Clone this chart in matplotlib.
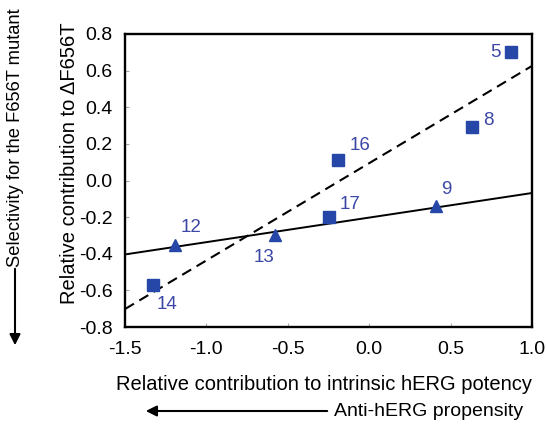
import numpy as np
import matplotlib
matplotlib.use("Agg")
import matplotlib.pyplot as plt

# squares (dashed fit) and triangles (solid fit)
sq_labels = ["5", "8", "16", "17", "14"]
sq_x = [0.87, 0.63, -0.19, -0.25, -1.33]
sq_y = [0.70, 0.29, 0.11, -0.20, -0.57]

tri_labels = ["12", "13", "9"]
tri_x = [-1.19, -0.58, 0.41]
tri_y = [-0.35, -0.30, -0.14]

x_ticks = [-1.5, -1.0, -0.5, 0.0, 0.5, 1.0]
y_ticks = [-0.8, -0.6, -0.4, -0.2, 0.0, 0.2, 0.4, 0.6, 0.8]

# label offsets in points
sq_offsets = [(-15, 0), (8, 5), (8, 11), (8, 9), (3, -14)]
tri_offsets = [(4, 12), (-15, -16), (4, 12)]


def main():
    plt.rcParams['font.family'] = ['Liberation Sans', 'DejaVu Sans']
    blue = "#2747a8"
    text_blue = "#3c47a5"

    fig = plt.figure(figsize=(5.47, 4.24), dpi=100)
    ax = fig.add_axes([125 / 547, 1 - 327 / 424, 407 / 547, 293 / 424])

    xs = np.array([-1.5, 1.0])
    p_sq = np.polyfit(sq_x, sq_y, 1)
    p_tri = np.polyfit(tri_x, tri_y, 1)
    ax.plot(xs, np.polyval(p_sq, xs), color="black", lw=1.5, ls=(0, (5, 3)))
    ax.plot(xs, np.polyval(p_tri, xs), color="black", lw=1.4)

    ax.plot(sq_x, sq_y, "s", color=blue, ms=8.5, zorder=3)
    ax.plot(tri_x, tri_y, "^", color=blue, ms=9, zorder=3)

    for lab, x, y, off in zip(sq_labels, sq_x, sq_y, sq_offsets):
        ax.annotate(lab, (x, y), xytext=off, textcoords="offset points",
                    color=text_blue, fontsize=13.5, va="center")
    for lab, x, y, off in zip(tri_labels, tri_x, tri_y, tri_offsets):
        ax.annotate(lab, (x, y), xytext=off, textcoords="offset points",
                    color=text_blue, fontsize=13.5, va="center")

    ax.set_xlim(-1.5, 1.0)
    ax.set_ylim(-0.8, 0.8)
    ax.set_xticks(x_ticks)
    ax.set_yticks(y_ticks)
    ax.set_xticklabels([f"{t:.1f}" for t in x_ticks])
    ax.set_yticklabels([f"{t:.1f}" for t in y_ticks])
    ax.tick_params(labelsize=14, length=3, direction="in", color="#aaaaaa")
    ax.tick_params(axis="x", pad=10)
    ax.tick_params(axis="y", pad=9)
    for s in ax.spines.values():
        s.set_linewidth(1.7)

    ax.set_xlabel("Relative contribution to intrinsic hERG potency", fontsize=14.5, va="center")
    ax.xaxis.set_label_coords(0.49, (327 - 384) / 293)
    ax.set_ylabel("Relative contribution to \u0394F656T", fontsize=14.5, va="center")
    ax.yaxis.set_label_coords((70 - 125) / 407, (327 - 163) / 293)

    # outer arrows and captions
    fig.text(16 / 547, 1 - 138 / 424, "Selectivity for the F656T mutant",
             rotation=90, ha="center", va="center", fontsize=13.2)
    fig.add_artist(matplotlib.patches.FancyArrowPatch(
        (15 / 547, 1 - 266 / 424), (15 / 547, 1 - 348 / 424),
        transform=fig.transFigure, arrowstyle="-|>", mutation_scale=16,
        color="black", lw=1.5))
    fig.text(523 / 547, 1 - 411 / 424, "Anti-hERG propensity",
             ha="right", va="center", fontsize=14)
    fig.add_artist(matplotlib.patches.FancyArrowPatch(
        (330 / 547, 1 - 411 / 424), (143 / 547, 1 - 411 / 424),
        transform=fig.transFigure, arrowstyle="-|>", mutation_scale=16,
        color="black", lw=1.5))

    fig.savefig("out.png", dpi=100)


if __name__ == "__main__":
    main()
